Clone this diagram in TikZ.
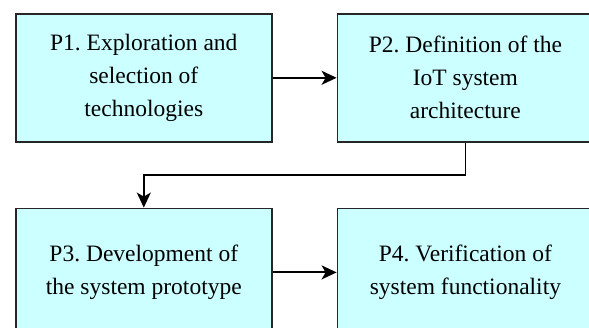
\documentclass[tikz,border=0pt]{standalone}
\usepackage{fontspec}
\setmainfont{Liberation Serif}
\usetikzlibrary{positioning,arrows.meta}

\definecolor{boxfill}{HTML}{CCFFFF}
\frenchspacing

\begin{document}
\begin{tikzpicture}[x=1pt, y=1pt, node distance=64pt and 64pt,
	p/.style={rectangle, draw=black!85, line width=1.6pt, fill=boxfill, minimum width=256pt, minimum height=128pt, align=center, inner sep=0pt, font=\fontsize{23.5}{33}\selectfont},
	a/.style={line width=1.8pt, -{Stealth[length=15pt, width=14pt, inset=4pt]}}]
		\useasboundingbox (0,0) rectangle (589,-328);
		\node[p, anchor=north west] (P1) at (15,-13) {P1. Exploration and\\selection of\\technologies};
		\node[p, right=of P1] (P2) {P2. Definition of the\\IoT system\\architecture};
		\node[p, below=65pt of P1] (P3) {P3. Development of\\the system prototype};
		\node[p, right=of P3] (P4) {P4. Verification of\\system functionality};

		\draw[a] (P1) -- (P2);
		\draw[a] (P2.south) -- ++(0,-32.5) -| (P3.north);
		\draw[a] (P3) -- (P4);
	\end{tikzpicture}
\end{document}
